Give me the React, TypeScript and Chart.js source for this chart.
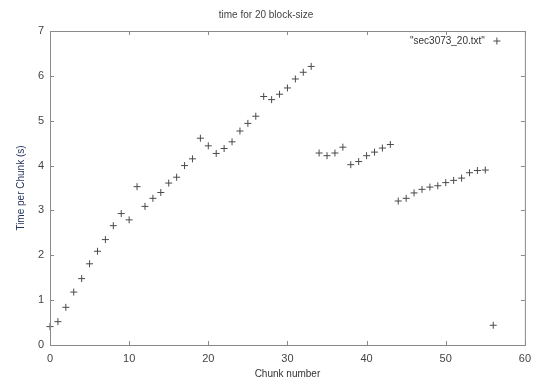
import React, { useEffect, useRef } from "react";
import { Chart, registerables } from "chart.js";

Chart.register(...registerables);

const chunks: number[] = [
  0, 1, 2, 3, 4, 5, 6, 7, 8, 9, 10, 11, 12, 13, 14, 15, 16, 17, 18, 19, 20,
  21, 22, 23, 24, 25, 26, 27, 28, 29, 30, 31, 32, 33, 34, 35, 36, 37, 38, 39,
  40, 41, 42, 43, 44, 45, 46, 47, 48, 49, 50, 51, 52, 53, 54, 55, 56,
];
const times: number[] = [
  0.41, 0.52, 0.84, 1.18, 1.48, 1.81, 2.09, 2.35, 2.66, 2.93, 2.79, 3.53, 3.09,
  3.27, 3.4, 3.61, 3.74, 4.0, 4.15, 4.61, 4.44, 4.27, 4.38, 4.53, 4.77, 4.94,
  5.1, 5.54, 5.47, 5.59, 5.73, 5.93, 6.08, 6.21, 4.28, 4.22, 4.28, 4.41, 4.02,
  4.09, 4.22, 4.3, 4.39, 4.47, 3.21, 3.27, 3.39, 3.47, 3.52, 3.55, 3.62, 3.67,
  3.72, 3.84, 3.89, 3.9, 0.44,
];
const seriesLabel = '"sec3073_20.txt"';
const chartTitle = "time for 20 block-size";
const xTitle = "Chunk number";
const yTitle = "Time per Chunk (s)";
const xTicks: number[] = [0, 10, 20, 30, 40, 50, 60];
const yTicks: number[] = [0, 1, 2, 3, 4, 5, 6, 7];

const FONT = "'Liberation Sans', Arial, sans-serif";
const MARK = "#4a4a4a";
const BORDER = "#8a8a8a";

const framePlugin = {
  id: "gnuplotFrame",
  afterDraw(chart: any) {
    const { ctx, chartArea, scales } = chart;
    const { left, right, top, bottom } = chartArea;
    ctx.save();
    ctx.strokeStyle = BORDER;
    ctx.lineWidth = 1;
    ctx.strokeRect(left + 0.5, top + 0.5, right - left, bottom - top);
    const tl = 4;
    ctx.beginPath();
    xTicks.forEach((v) => {
      const px = Math.round(scales.x.getPixelForValue(v)) + 0.5;
      ctx.moveTo(px, bottom);
      ctx.lineTo(px, bottom - tl);
      ctx.moveTo(px, top);
      ctx.lineTo(px, top + tl);
    });
    yTicks.forEach((v) => {
      const py = Math.round(scales.y.getPixelForValue(v)) + 0.5;
      ctx.moveTo(left, py);
      ctx.lineTo(left + tl, py);
      ctx.moveTo(right, py);
      ctx.lineTo(right - tl, py);
    });
    ctx.stroke();

    // legend (key) in gnuplot style: text then sample
    ctx.font = `10px ${FONT}`;
    ctx.fillStyle = "#333333";
    ctx.textAlign = "right";
    ctx.textBaseline = "middle";
    const ly = top + 10;
    ctx.fillText(seriesLabel, right - 40, ly);
    const sx = right - 28;
    ctx.strokeStyle = MARK;
    ctx.beginPath();
    ctx.moveTo(sx - 3.5, ly);
    ctx.lineTo(sx + 3.5, ly);
    ctx.moveTo(sx, ly - 3.5);
    ctx.lineTo(sx, ly + 3.5);
    ctx.stroke();
    ctx.restore();
  },
};

export default function App() {
  const ref = useRef<HTMLCanvasElement | null>(null);
  useEffect(() => {
    if (!ref.current) return;
    const chart = new Chart(ref.current, {
      type: "scatter",
      data: {
        datasets: [
          {
            label: seriesLabel,
            data: chunks.map((c, i) => ({ x: c, y: times[i] })),
            pointStyle: "cross",
            pointRadius: 3.5,
            pointBorderWidth: 1,
            borderColor: MARK,
            backgroundColor: MARK,
            clip: false,
          } as any,
        ],
      },
      plugins: [framePlugin],
      options: {
        animation: false,
        responsive: false,
        devicePixelRatio: 1,
        layout: { padding: { left: 0, right: 6, top: 0, bottom: 0 } },
        plugins: {
          legend: { display: false },
          tooltip: { enabled: false },
          title: {
            display: true,
            text: chartTitle,
            color: "#444444",
            font: { family: FONT, size: 10, weight: "normal" },
            padding: { top: 9, bottom: 10 },
          },
        },
        scales: {
          x: {
            type: "linear",
            min: 0,
            max: 60,
            afterFit: (s: any) => {
              s.height = 35;
            },
            afterBuildTicks: (s: any) => {
              s.ticks = xTicks.map((v) => ({ value: v }));
            },
            ticks: {
              color: "#444444",
              font: { family: FONT, size: 11 },
              padding: 7,
              maxRotation: 0,
            },
            grid: { display: false, drawTicks: false },
            border: { display: false },
            title: {
              display: true,
              text: xTitle,
              color: "#333333",
              font: { family: FONT, size: 10 },
              padding: { top: 1, bottom: 0 },
            },
          },
          y: {
            type: "linear",
            min: 0,
            max: 7,
            afterFit: (s: any) => {
              s.width = 50;
            },
            afterBuildTicks: (s: any) => {
              s.ticks = yTicks.map((v) => ({ value: v }));
            },
            ticks: {
              color: "#444444",
              font: { family: FONT, size: 11 },
              padding: 6,
            },
            grid: { display: false, drawTicks: false },
            border: { display: false },
            title: {
              display: true,
              text: yTitle,
              color: "#25355e",
              font: { family: FONT, size: 10 },
              padding: { top: 15, bottom: 0 },
            },
          },
        },
      },
    });
    return () => chart.destroy();
  }, []);
  return (
    <div style={{ position: "absolute", left: 0, top: 0, width: 538, height: 380, background: "#fff" }}>
      <canvas ref={ref} width={538} height={380} />
    </div>
  );
}
